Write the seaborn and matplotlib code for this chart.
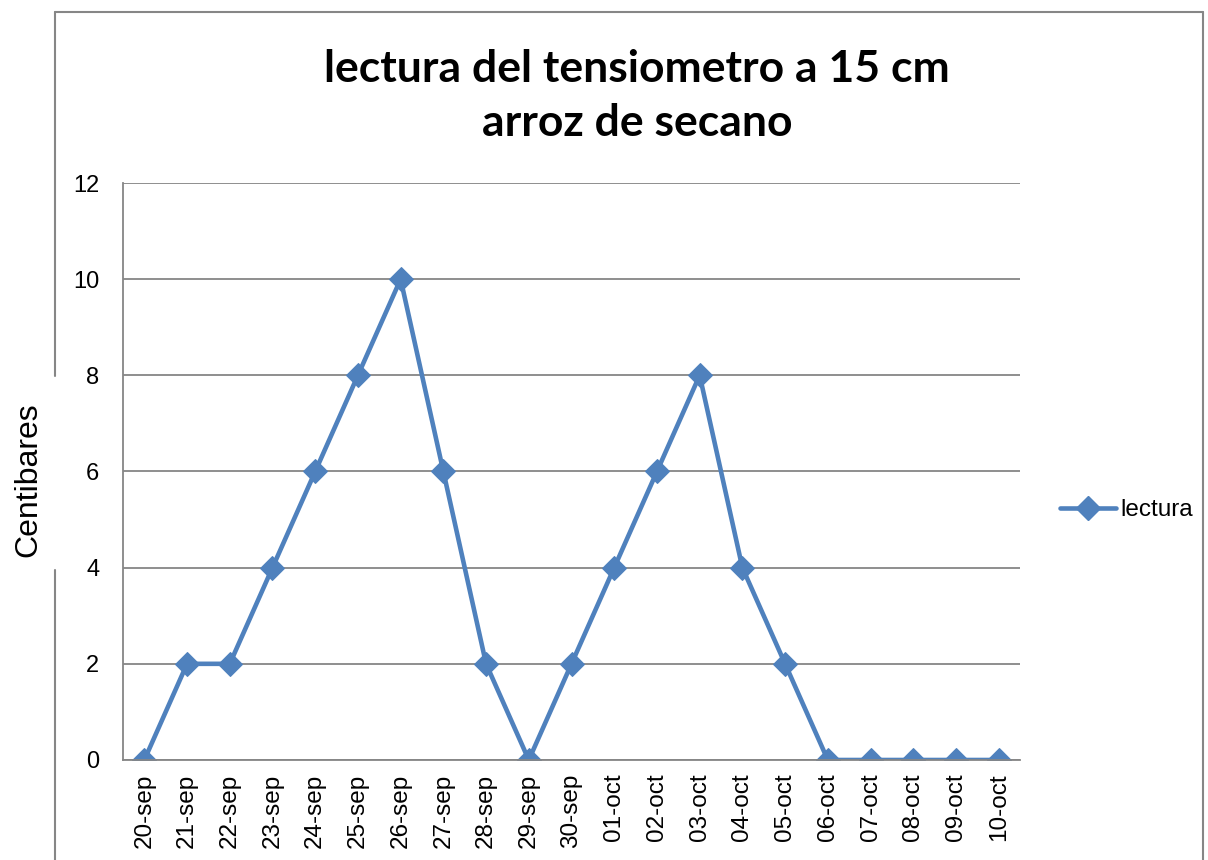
import pandas as pd
import seaborn as sns
import matplotlib.pyplot as plt
from matplotlib.lines import Line2D

sns.set_style("white")
plt.rcParams['font.family'] = ['Liberation Sans', 'DejaVu Sans']
plt.rcParams['text.color'] = 'black'
plt.rcParams['xtick.labelcolor'] = 'black'
plt.rcParams['ytick.labelcolor'] = 'black'

fechas = ["20-sep", "21-sep", "22-sep", "23-sep", "24-sep", "25-sep", "26-sep",
          "27-sep", "28-sep", "29-sep", "30-sep", "01-oct", "02-oct", "03-oct",
          "04-oct", "05-oct", "06-oct", "07-oct", "08-oct", "09-oct", "10-oct"]
lectura = [0, 2, 2, 4, 6, 8, 10, 6, 2, 0, 2, 4, 6, 8, 4, 2, 0, 0, 0, 0, 0]

data = pd.DataFrame({"fecha": fechas, "lectura": lectura})

azul = "#4F81BD"
gris = "#868686"

fig = plt.figure(figsize=(12.08, 8.6), dpi=100)
ax = fig.add_axes([0.1018, 0.1163, 0.7426, 0.6709])

sns.lineplot(data=data, x="fecha", y="lectura", ax=ax, color=azul, lw=3.3,
             marker="D", markersize=12, markeredgecolor=azul, sort=False)

ax.set_xlim(-0.5, len(fechas) - 0.5)
ax.set_ylim(0, 12)
ax.set_yticks(range(0, 13, 2))
ax.set_xticks(range(len(fechas)))
ax.set_xticklabels(fechas, rotation=90, fontsize=17.5)
ax.set_xticks([i - 0.5 for i in range(len(fechas) + 1)], minor=True)
ax.tick_params(axis="x", which="major", length=0, pad=10)
ax.tick_params(axis="x", which="minor", length=6, width=1.3, color=gris, direction="out")
ax.tick_params(axis="y", length=5, width=1.3, color=gris, direction="out", labelsize=17, pad=12)
ax.grid(axis="y", color=gris, lw=1.3)
ax.set_axisbelow(True)
for lado in ["top", "right"]:
    ax.spines[lado].set_visible(False)
for lado in ["left", "bottom"]:
    ax.spines[lado].set_color(gris)
    ax.spines[lado].set_linewidth(1.3)
ax.set_xlabel("")
ax.set_ylabel("")

# marco del grafico (cortado por el titulo del eje)
W, H = 1208, 860
marco = [((55, 55), (12, 376)), ((55, 55), (570, 870)),
         ((55, 1203), (12, 12)), ((1203, 1203), (12, 870))]
for xs, ys in marco:
    fig.add_artist(Line2D([x / W for x in xs], [1 - y / H for y in ys],
                          transform=fig.transFigure, color=gris, lw=1.5))

fig.text(28 / W, 1 - 480 / H, "Centibares", rotation=90, fontsize=23,
         ha="center", va="center")

fig.text(637 / W, 1 - 96 / H, "lectura del tensiometro a 15 cm\narroz de secano",
         fontsize=32, fontweight="bold", ha="center", va="center",
         family=["Lato", "DejaVu Sans"], linespacing=1.4)

h = Line2D([], [], color=azul, lw=3.3, marker="D", markersize=12)
fig.legend([h], ["lectura"], loc="center left", bbox_to_anchor=(1060 / W, 1 - 510 / H),
           frameon=False, fontsize=17.5, handlelength=2.3, handletextpad=0.2,
           borderpad=0, borderaxespad=0)

fig.savefig("out.png", dpi=100)
